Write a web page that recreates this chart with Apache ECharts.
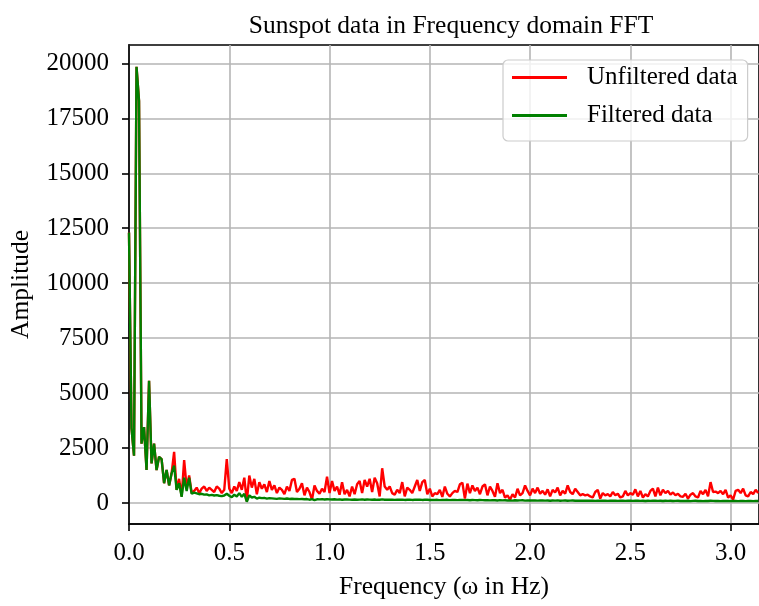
<!DOCTYPE html>
<html>
<head>
<meta charset="utf-8">
<script src="https://cdn.jsdelivr.net/npm/echarts@6/dist/echarts.min.js"></script>
<style>
  html, body { margin: 0; padding: 0; background: #fff; }
  #chart { width: 759px; height: 606px; }
</style>
</head>
<body>
<div id="chart"></div>
<script>
// FFT amplitude of the sunspot record, sampled every FREQ_STEP rad
const FREQ_STEP = 0.0125;

const unfiltered = [
  12300, 3400, 2150, 19840, 18300, 2700, 3450, 1500, 5560, 1800, 2700, 1500, 2100, 2000, 900, 1500, 800, 1350, 2330, 600, 1100, 300, 1950, 700, 1250,
  450, 550, 700, 450, 650, 750, 550, 700, 600, 500, 750, 650, 450, 600, 2000, 650, 450, 750, 550, 950, 600, 1150, 80, 1250, 700,
  1100, 400, 950, 650, 850, 500, 1000, 600, 800, 450, 700, 600, 400, 750, 550, 1050, 1100, 500, 650, 900, 350, 700, 500, 150, 800,
  550, 420, 650, 500, 1200, 450, 1000, 550, 750, 380, 950, 400, 600, 300, 750, 400, 850, 1000, 450, 1050, 750, 1100, 500, 1150, 900,
  300, 1580, 750, 600, 750, 450, 380, 600, 450, 950, 300, 700, 600, 450, 750, 1050, 550, 950, 1050, 400, 650, 300, 450, 400, 600,
  280, 750, 420, 300, 450, 550, 500, 850, 920, 200, 880, 450, 800, 550, 700, 400, 750, 850, 350, 750, 550, 280, 900, 450, 600,
  250, 350, 150, 400, 250, 650, 350, 450, 800, 550, 350, 650, 450, 700, 420, 550, 380, 620, 300, 600, 480, 700, 350, 550, 420,
  800, 500, 400, 650, 500, 350, 400, 350, 380, 300, 250, 500, 600, 200, 450, 350, 400, 300, 500, 350, 420, 250, 300, 550, 350,
  450, 380, 620, 300, 550, 250, 400, 300, 550, 650, 300, 700, 350, 600, 450, 550, 380, 480, 350, 420, 300, 280, 420, 200, 380,
  450, 300, 250, 550, 400, 600, 300, 950, 500, 520, 450, 550, 400, 600, 250, 350, 150, 550, 600, 450, 650, 350, 300, 500, 400, 600, 450
];

const filtered = [
  12300, 3400, 2150, 19840, 18300, 2700, 3450, 1500, 5560, 1800, 2700, 1500, 2100, 2000, 900, 1500, 800, 1350, 1700, 600, 900, 280, 1150, 550, 1150,
  420, 470, 440, 400, 420, 380, 390, 350, 370, 340, 360, 330, 310, 340, 420, 330, 260, 380, 300, 450, 280, 420, 60, 350, 250,
  280, 200, 240, 220, 230, 200, 220, 210, 200, 190, 210, 200, 190, 205, 185, 195, 180, 190, 175, 185, 170, 180, 150, 175, 130,
  170, 165, 175, 160, 170, 165, 160, 170, 155, 165, 150, 160, 165, 155, 150, 160, 150, 155, 165, 150, 160, 155, 150, 160, 145,
  150, 165, 150, 155, 145, 150, 140, 150, 145, 155, 140, 145, 150, 140, 145, 150, 155, 140, 145, 150, 135, 140, 135, 145, 130,
  140, 135, 145, 130, 135, 140, 130, 135, 140, 130, 135, 125, 135, 130, 125, 135, 130, 125, 130, 120, 130, 125, 115, 130, 120,
  125, 115, 120, 110, 125, 115, 120, 125, 110, 120, 115, 115, 120, 110, 115, 120, 110, 115, 105, 115, 110, 120, 105, 110, 115,
  105, 110, 115, 105, 110, 100, 110, 105, 100, 110, 105, 95, 110, 100, 105, 100, 95, 105, 100, 110, 95, 100, 105, 95, 100,
  105, 95, 100, 105, 95, 100, 90, 100, 95, 105, 100, 95, 100, 90, 100, 95, 100, 90, 95, 100, 90, 95, 90, 100, 85,
  95, 100, 90, 95, 85, 95, 90, 100, 95, 90, 95, 85, 95, 90, 95, 85, 90, 95, 85, 95, 90, 85, 95, 90, 85, 95, 90
];

const xTicks = [0, 0.5, 1.0, 1.5, 2.0, 2.5, 3.0];
const yTicks = [0, 2500, 5000, 7500, 10000, 12500, 15000, 17500, 20000];

const freq = unfiltered.map((_, k) => k * FREQ_STEP);
const pairs = (vals) => vals.map((v, i) => [freq[i], v]);

const FONT = 'Liberation Serif';
const chart = echarts.init(document.getElementById('chart'), null, { renderer: 'canvas' });

chart.setOption({
  animation: false,
  backgroundColor: '#fff',
  textStyle: { fontFamily: FONT, color: '#000' },
  title: {
    text: 'Sunspot data in Frequency domain FFT',
    left: 446,
    textAlign: 'center',
    top: 8,
    textStyle: { fontFamily: FONT, fontSize: 25.5, fontWeight: 'normal', color: '#000' }
  },
  grid: {
    left: 128, right: -6, top: 45, bottom: 82,
    show: true, borderColor: '#000', borderWidth: 1.6, backgroundColor: 'transparent'
  },
  legend: {
    orient: 'vertical',
    left: 503, top: 60,
    padding: [5, 10, 13, 9],
    itemGap: 13,
    itemWidth: 55, itemHeight: 3,
    icon: 'rect',
    borderColor: '#cccccc', borderWidth: 1.2, borderRadius: 5,
    backgroundColor: 'rgba(255,255,255,0.8)',
    textStyle: { fontFamily: FONT, fontSize: 25, color: '#000', lineHeight: 24, padding: [0, 0, 0, 15] },
    data: ['Unfiltered data', 'Filtered data']
  },
  xAxis: {
    type: 'value',
    min: 0, max: Math.PI,
    name: 'Frequency (\u03c9 in Hz)',
    nameLocation: 'middle',
    nameGap: 50,
    nameTextStyle: { fontFamily: FONT, fontSize: 25.5, color: '#000' },
    axisLine: { show: true, onZero: false, lineStyle: { color: '#000', width: 1.6 } },
    axisTick: { show: true, inside: false, length: 7, customValues: xTicks, lineStyle: { color: '#000', width: 1.6 } },
    axisLabel: {
      customValues: xTicks, margin: 17, fontFamily: FONT, fontSize: 25, color: '#000',
      formatter: (v) => v.toFixed(1)
    },
    splitLine: { show: true, lineStyle: { color: '#b5b5b5', width: 1.6 } }
  },
  yAxis: {
    type: 'value',
    min: -955, max: 20835,
    name: 'Amplitude',
    nameLocation: 'middle',
    nameGap: 95,
    nameTextStyle: { fontFamily: FONT, fontSize: 25.5, color: '#000' },
    axisLine: { show: true, onZero: false, lineStyle: { color: '#000', width: 1.6 } },
    axisTick: { show: true, inside: false, length: 7, customValues: yTicks, lineStyle: { color: '#000', width: 1.6 } },
    axisLabel: {
      customValues: yTicks, margin: 20, fontFamily: FONT, fontSize: 25, color: '#000',
      formatter: (v) => String(Math.round(v))
    },
    splitLine: { show: true, lineStyle: { color: '#b5b5b5', width: 1.6 } }
  },
  series: [
    {
      name: 'Unfiltered data',
      type: 'line',
      data: pairs(unfiltered),
      showSymbol: false, symbol: 'none',
      color: '#ff0000',
      lineStyle: { color: '#ff0000', width: 2.4 },
      z: 2
    },
    {
      name: 'Filtered data',
      type: 'line',
      data: pairs(filtered),
      showSymbol: false, symbol: 'none',
      color: '#008000',
      lineStyle: { color: '#008000', width: 2.4 },
      z: 3
    }
  ]
});
</script>
</body>
</html>
